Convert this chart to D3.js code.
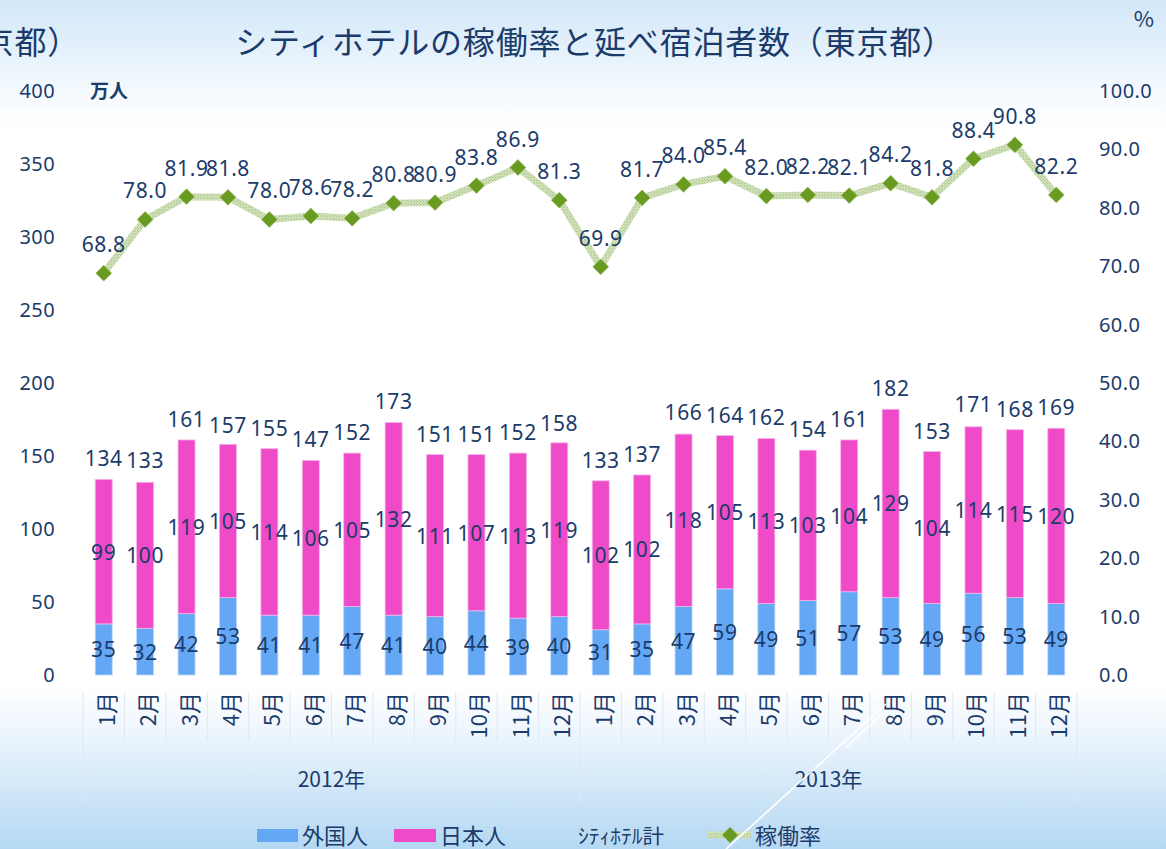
<!DOCTYPE html>
<html><head><meta charset="utf-8">
<script src="https://cdn.jsdelivr.net/npm/d3@7"></script>
<style>
html,body{margin:0;padding:0;overflow:hidden;}
svg{display:block;font-family:"Noto Sans CJK JP","Noto Sans",sans-serif;}
</style></head>
<body>
<svg id="c" width="1166" height="849"></svg>
<script>
const years = ["2012年","2013年"];
const months = ["1月","2月","3月","4月","5月","6月","7月","8月","9月","10月","11月","12月"];
const foreign = [35,32,42,53,41,41,47,41,40,44,39,40, 31,35,47,59,49,51,57,53,49,56,53,49];
const japanese = [99,100,119,105,114,106,105,132,111,107,113,119, 102,102,118,105,113,103,104,129,104,114,115,120];
const totals = [134,133,161,157,155,147,152,173,151,151,152,158, 133,137,166,164,162,154,161,182,153,171,168,169];
const rate = [68.8,78.0,81.9,81.8,78.0,78.6,78.2,80.8,80.9,83.8,86.9,81.3, 69.9,81.7,84.0,85.4,82.0,82.2,82.1,84.2,81.8,88.4,90.8,82.2];
const leftTicks = [0,50,100,150,200,250,300,350,400];
const rightTicks = [0,10,20,30,40,50,60,70,80,90,100];

const txt = "#1b3b6a";
const blue = "#64a7f5", pink = "#ef4ac8";
const svg = d3.select("#c");
const W = 1166, H = 849;

// background
const defs = svg.append("defs");
const bg = defs.append("linearGradient").attr("id","bg").attr("x1",0).attr("x2",0).attr("y1",0).attr("y2",1);
[[0,"#d2e7f8"],[0.13,"#fbfdff"],[0.16,"#ffffff"],[0.81,"#ffffff"],[0.86,"#eef6fd"],[1,"#b4d8f3"]]
  .forEach(([o,c])=>bg.append("stop").attr("offset",o).attr("stop-color",c));
svg.append("rect").attr("width",W).attr("height",H).attr("fill","url(#bg)");

const pat = defs.append("pattern").attr("id","hatch").attr("patternUnits","userSpaceOnUse").attr("width",3).attr("height",3);
pat.append("rect").attr("width",3).attr("height",3).attr("fill","#cfe0b8");
pat.append("rect").attr("width",1).attr("height",1).attr("fill","#a9c487");
pat.append("rect").attr("x",2).attr("y",2).attr("width",1).attr("height",1).attr("fill","#b5cd95");

const cats = d3.range(24);
const x = d3.scaleBand().domain(cats).range([83,1077]).paddingInner(0.59).paddingOuter(0.295);
const yL = d3.scaleLinear().domain([0,400]).range([675,91]);
const yR = d3.scaleLinear().domain([0,100]).range([675,91]);
const cx = i => x(i) + x.bandwidth()/2;

// left axis
const axL = svg.append("g").attr("transform","translate(55,0)")
  .call(d3.axisLeft(yL).tickValues(leftTicks).tickSize(0).tickPadding(0));
axL.select(".domain").remove();
axL.selectAll("text").attr("fill",txt).attr("font-size",20).attr("letter-spacing","0.4px").attr("font-family","'Noto Sans','Open Sans',sans-serif");

const axR = svg.append("g").attr("transform","translate(1099,0)")
  .call(d3.axisRight(yR).tickValues(rightTicks).tickFormat(d3.format(".1f")).tickSize(0).tickPadding(0));
axR.select(".domain").remove();
axR.selectAll("text").attr("fill",txt).attr("font-size",20).attr("letter-spacing","0.4px").attr("font-family","'Noto Sans','Open Sans',sans-serif");

// category dividers
const step = x.step();
const divs = d3.range(25);
svg.append("g").selectAll("line").data(divs).join("line")
  .attr("x1",i=>83+i*step).attr("x2",i=>83+i*step)
  .attr("y1",692).attr("y2",i=>(i%12===0)?804:741)
  .attr("stroke","#dfe7ef").attr("stroke-width",1);

// bars
const gb = svg.append("g");
gb.selectAll(".bf").data(cats).join("rect")
  .attr("x",i=>x(i)).attr("width",x.bandwidth())
  .attr("y",i=>yL(foreign[i])).attr("height",i=>yL(0)-yL(foreign[i]))
  .attr("fill",blue).attr("stroke","#b9d6fb").attr("stroke-width",0.8);
gb.selectAll(".bj").data(cats).join("rect")
  .attr("x",i=>x(i)).attr("width",x.bandwidth())
  .attr("y",i=>yL(foreign[i]+japanese[i])).attr("height",i=>yL(foreign[i])-yL(foreign[i]+japanese[i]))
  .attr("fill",pink).attr("stroke","#f7b3e6").attr("stroke-width",0.8);

const lblFont = "'Noto Sans','Open Sans',sans-serif";
const lbl = (sel)=>sel.attr("fill",txt).attr("font-size",21).attr("text-anchor","middle")
  .attr("font-family",lblFont).attr("letter-spacing","0.6px").attr("dominant-baseline","central");

svg.append("g").selectAll("text").data(cats).join("text")
  .attr("x",cx).attr("y",i=>yL(foreign[i]/2)).text(i=>foreign[i]).call(lbl);
svg.append("g").selectAll("text").data(cats).join("text")
  .attr("x",cx).attr("y",i=>yL(foreign[i]+japanese[i]/2)).text(i=>japanese[i]).call(lbl);
svg.append("g").selectAll("text").data(cats).join("text")
  .attr("x",cx).attr("y",i=>yL(totals[i])-21).text(i=>totals[i]).call(lbl);

// line
const line = d3.line().x(cx).y(i=>yR(rate[i]));
svg.append("path").datum(cats).attr("d",line).attr("fill","none")
  .attr("stroke","url(#hatch)").attr("stroke-width",7).attr("stroke-linejoin","round");
const diamond = d3.symbol().type(d3.symbolSquare).size(125)();
svg.append("g").selectAll("path").data(cats).join("path")
  .attr("d",diamond).attr("transform",i=>`translate(${cx(i)},${yR(rate[i])}) rotate(45)`)
  .attr("fill","#689b1f").attr("stroke","#8fb45a").attr("stroke-width",0.6);
svg.append("g").selectAll("text").data(cats).join("text")
  .attr("x",cx).attr("y",i=>yR(rate[i])-29).text(i=>rate[i].toFixed(1)).call(lbl);

// month labels
svg.append("g").selectAll("text").data(cats).join("text")
  .attr("transform",i=>`translate(${cx(i)+1},692) rotate(-90)`)
  .attr("text-anchor","end").attr("dominant-baseline","central")
  .attr("fill",txt).attr("font-size",22).text(i=>months[i%12]);

// year labels
svg.append("g").selectAll("text").data(years).join("text")
  .attr("x",(d,k)=>83+step*(k*12+6)).attr("y",778)
  .attr("text-anchor","middle").attr("dominant-baseline","central")
  .attr("fill",txt).attr("font-size",21).text(d=>d);

// titles
const title = "シティホテルの稼働率と延べ宿泊者数（東京都）";
svg.append("text").attr("x",595).attr("y",40).attr("text-anchor","middle").attr("dominant-baseline","central")
  .attr("fill",txt).attr("font-size",32).attr("letter-spacing","0.8px").text(title);
svg.append("text").attr("x",80).attr("y",40).attr("text-anchor","end").attr("dominant-baseline","central")
  .attr("fill",txt).attr("font-size",32).attr("letter-spacing","0.8px").text(title);
svg.append("text").attr("x",90).attr("y",89).attr("dominant-baseline","central")
  .attr("fill",txt).attr("font-size",19).attr("font-weight","bold").text("万人");
svg.append("text").attr("x",1144).attr("y",17).attr("text-anchor","middle").attr("dominant-baseline","central")
  .attr("fill",txt).attr("font-size",22).text("%");

// legend
const lg = svg.append("g");
lg.append("rect").attr("x",257).attr("y",829).attr("width",41).attr("height",13).attr("fill",blue);
lg.append("text").attr("x",302).attr("y",834).attr("dominant-baseline","central").attr("fill",txt).attr("font-size",22).text("外国人");
lg.append("rect").attr("x",394).attr("y",829).attr("width",42).attr("height",13).attr("fill",pink);
lg.append("text").attr("x",440).attr("y",834).attr("dominant-baseline","central").attr("fill",txt).attr("font-size",22).text("日本人");
lg.append("text").attr("x",578).attr("y",835).attr("dominant-baseline","central").attr("fill",txt).attr("font-size",20)
  .attr("textLength",86).attr("lengthAdjust","spacingAndGlyphs").text("ｼﾃｨﾎﾃﾙ計");
lg.append("line").attr("x1",708).attr("x2",752).attr("y1",835).attr("y2",835).attr("stroke","url(#hatch)").attr("stroke-width",7);
lg.append("path").attr("d",diamond).attr("transform","translate(730,835) rotate(45)").attr("fill","#689b1f");
lg.append("text").attr("x",755).attr("y",834).attr("dominant-baseline","central").attr("fill",txt).attr("font-size",22).text("稼働率");

// artifact white strokes
svg.append("line").attr("x1",726).attr("y1",849).attr("x2",886).attr("y2",704).attr("stroke","#ffffff").attr("stroke-width",1.6);
svg.append("line").attr("x1",845).attr("y1",748).attr("x2",882).attr("y2",714).attr("stroke","#ffffff").attr("stroke-width",1.6);
</script>
</body></html>
